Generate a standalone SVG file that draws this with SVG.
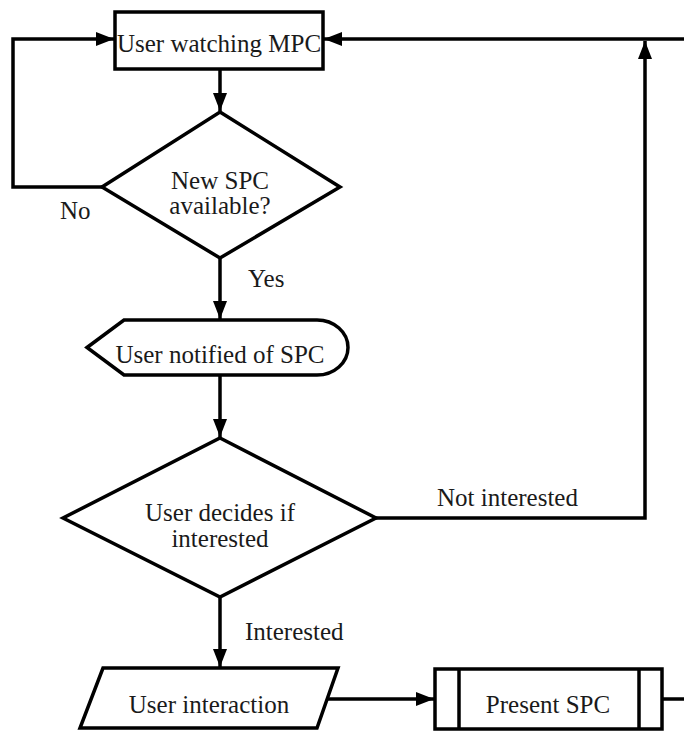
<svg xmlns="http://www.w3.org/2000/svg" width="684" height="731" viewBox="0 0 684 731">
  <style>
    .shape { fill: #ffffff; stroke: #000000; stroke-width: 3.5; stroke-linejoin: miter; }
    .edge { fill: none; stroke: #000000; stroke-width: 3.5; stroke-linejoin: miter; }
    .label { font-family: "Liberation Serif", "DejaVu Serif", serif; font-size: 25px; fill: #1a1a1a; text-anchor: middle; }
    .edgelabel { font-family: "Liberation Serif", "DejaVu Serif", serif; font-size: 25px; fill: #1a1a1a; }
  </style>
  <defs>
    <marker id="arrow" markerUnits="userSpaceOnUse" markerWidth="20" markerHeight="16" refX="18" refY="8" orient="auto">
      <path d="M0,1 L18,8 L0,15 Z" fill="#000000"/>
    </marker>
  </defs>
  <rect width="684" height="731" fill="#ffffff"/>

  <!-- connectors -->
  <g id="connectors">
    <path class="edge" d="M220,69 V111" marker-end="url(#arrow)"/>
    <path class="edge" d="M102,187 H13 V39 H114" marker-end="url(#arrow)"/>
    <path class="edge" d="M220,258 V319" marker-end="url(#arrow)"/>
    <path class="edge" d="M220,375 V437" marker-end="url(#arrow)"/>
    <path class="edge" d="M376,518 H645 V41" marker-end="url(#arrow)"/>
    <path class="edge" d="M220,597 V667" marker-end="url(#arrow)"/>
    <path class="edge" d="M327,699 H434" marker-end="url(#arrow)"/>
    <path class="edge" d="M662,699 H700 V39 H324" marker-end="url(#arrow)"/>
    <text class="edgelabel" x="60" y="219">No</text>
    <text class="edgelabel" x="248" y="287">Yes</text>
    <text class="edgelabel" x="437" y="506">Not interested</text>
    <text class="edgelabel" x="245" y="640">Interested</text>
  </g>

  <!-- nodes -->
  <g id="watching">
    <rect class="shape" x="115" y="12" width="208" height="57"/>
    <text class="label" x="219" y="52">User watching MPC</text>
  </g>
  <g id="new-spc">
    <polygon class="shape" points="220,112 340,187 220,258 102,187"/>
    <text class="label" x="220" y="189">New SPC</text>
    <text class="label" x="220" y="214">available?</text>
  </g>
  <g id="notified">
    <path class="shape" d="M87,347.5 L124,320 H317 A31,27.5 0 0 1 317,375 H124 Z"/>
    <text class="label" x="220" y="363">User notified of SPC</text>
  </g>
  <g id="decides">
    <polygon class="shape" points="220,438 376,518 220,597 63,518"/>
    <text class="label" x="220" y="521">User decides if</text>
    <text class="label" x="220" y="547">interested</text>
  </g>
  <g id="interaction">
    <polygon class="shape" points="103,668 338,668 317,728 80,728"/>
    <text class="label" x="209" y="713">User interaction</text>
  </g>
  <g id="present">
    <rect class="shape" x="435" y="669" width="227" height="60"/>
    <line class="edge" x1="459" y1="669" x2="459" y2="729"/>
    <line class="edge" x1="639" y1="669" x2="639" y2="729"/>
    <text class="label" x="548" y="713">Present SPC</text>
  </g>
</svg>
